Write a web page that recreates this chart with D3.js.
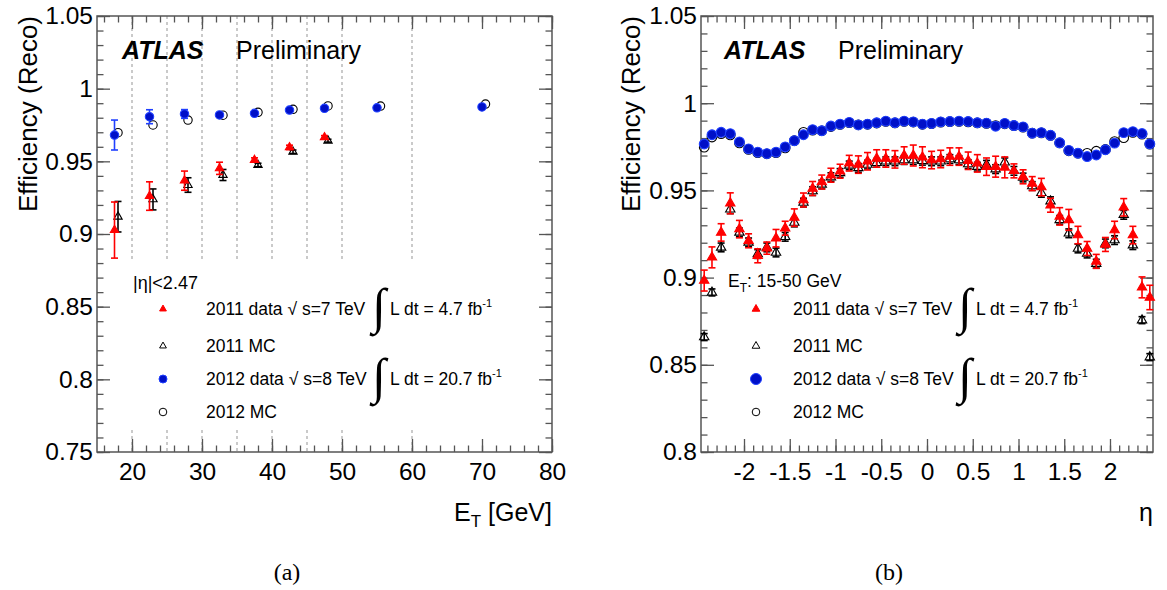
<!DOCTYPE html>
<html>
<head>
<meta charset="utf-8">
<script src="https://cdn.jsdelivr.net/npm/d3@7"></script>
<style>
body { margin: 0; background: #fff; }
svg text { font-family: "Liberation Sans", Arial, sans-serif; fill: #000; }
</style>
</head>
<body>
<script>
// ---- panel (a): efficiency vs E_T ----
let etBinEdges = [20, 25, 30, 35, 40, 45, 50, 60];
let etTicks = [20, 30, 40, 50, 60, 70, 80];
let effTicksA = [0.75, 0.8, 0.85, 0.9, 0.95, 1, 1.05];

let etData2012 = [17.5, 22.5, 27.5, 32.5, 37.5, 42.5, 47.5, 55, 70];
let etMC2012 = [18, 23, 28, 33, 38, 43, 48, 55.5, 70.5];
let effEt2012Data = [0.9681, 0.9807, 0.9826, 0.9819, 0.983, 0.9853, 0.9865, 0.9868, 0.9874];
let errEt2012Data = [0.0103, 0.0048, 0.003, 0.0012, 0.001, 0.001, 0.001, 0.001, 0.001];
let effEt2012MC = [0.9697, 0.975, 0.9784, 0.9817, 0.9837, 0.9858, 0.9881, 0.988, 0.9894];

let etData2011 = [17.5, 22.5, 27.5, 32.5, 37.5, 42.5, 47.5];
let etMC2011 = [18, 23, 28, 33, 38, 43, 48];
let effEt2011Data = [0.9027, 0.9261, 0.9367, 0.9452, 0.9509, 0.9596, 0.9665];
let errEt2011Data = [0.0193, 0.0098, 0.0066, 0.0042, 0.0015, 0.0015, 0.0012];
let effEt2011MC = [0.9119, 0.9238, 0.9337, 0.9406, 0.9475, 0.9566, 0.9642];
let errEt2011MC = [0.0105, 0.0072, 0.005, 0.0038, 0.0012, 0.0012, 0.001];

// ---- panel (b): efficiency vs eta ----
let etaTicks = [-2, -1.5, -1, -0.5, 0, 0.5, 1, 1.5, 2];
let effTicksB = [0.8, 0.85, 0.9, 0.95, 1, 1.05];

let etaCenters = [-2.435, -2.35, -2.25, -2.15, -2.05, -1.95, -1.85, -1.75, -1.65, -1.55,
  -1.45, -1.35, -1.25, -1.15, -1.05, -0.95, -0.85, -0.75, -0.65, -0.55,
  -0.45, -0.35, -0.25, -0.15, -0.05, 0.05, 0.15, 0.25, 0.35, 0.45,
  0.55, 0.65, 0.75, 0.85, 0.95, 1.05, 1.15, 1.25, 1.35, 1.45,
  1.55, 1.65, 1.75, 1.85, 1.95, 2.05, 2.15, 2.25, 2.35, 2.435];

let effEta2012Data = [0.9766, 0.9819, 0.9833, 0.9825, 0.9778, 0.9738, 0.9719, 0.9711, 0.9719, 0.9749,
  0.9785, 0.9819, 0.9848, 0.9842, 0.9869, 0.988, 0.989, 0.9876, 0.988, 0.9888,
  0.9897, 0.9888, 0.9897, 0.9893, 0.988, 0.9884, 0.9893, 0.9895, 0.9897, 0.9895,
  0.9888, 0.9886, 0.9868, 0.9884, 0.9872, 0.9864, 0.9828, 0.9831, 0.9816, 0.9773,
  0.9729, 0.9713, 0.9694, 0.9703, 0.9733, 0.9771, 0.9831, 0.9837, 0.9826, 0.9767];
let effEta2012MC = [0.9748, 0.9806, 0.9825, 0.9818, 0.9772, 0.9735, 0.9716, 0.971, 0.9716, 0.9743,
  0.9785, 0.9833, 0.9845, 0.9842, 0.9866, 0.9878, 0.9888, 0.9876, 0.9879, 0.9886,
  0.9895, 0.9887, 0.9895, 0.9892, 0.9879, 0.9883, 0.9891, 0.9894, 0.9895, 0.9893,
  0.9887, 0.9884, 0.9872, 0.9882, 0.9871, 0.9862, 0.9828, 0.983, 0.9815, 0.9772,
  0.9727, 0.9713, 0.9713, 0.9725, 0.9735, 0.978, 0.9802, 0.9832, 0.9822, 0.9765];

let effEta2011Data = [0.8983, 0.9116, 0.9259, 0.9426, 0.9278, 0.9211, 0.9125, 0.9169, 0.9226, 0.9283,
  0.9344, 0.9445, 0.9511, 0.9548, 0.9587, 0.961, 0.9656, 0.9648, 0.9667, 0.9683,
  0.9683, 0.9678, 0.97, 0.97, 0.969, 0.9674, 0.968, 0.9694, 0.9694, 0.967,
  0.9655, 0.9636, 0.9636, 0.9632, 0.9612, 0.9578, 0.9539, 0.9519, 0.9415, 0.9351,
  0.9331, 0.9244, 0.9167, 0.9093, 0.919, 0.9273, 0.9403, 0.9244, 0.8944, 0.8886];
let errEta2011Data = [0.006, 0.006, 0.005, 0.006, 0.005, 0.004, 0.004, 0.0035, 0.005, 0.004,
  0.005, 0.004, 0.004, 0.004, 0.004, 0.004, 0.0045, 0.005, 0.005, 0.005,
  0.005, 0.005, 0.005, 0.006, 0.006, 0.005, 0.005, 0.005, 0.005, 0.005,
  0.005, 0.005, 0.006, 0.006, 0.004, 0.004, 0.004, 0.005, 0.004, 0.005,
  0.006, 0.005, 0.004, 0.004, 0.004, 0.005, 0.005, 0.005, 0.006, 0.007];
let effEta2011MC = [0.8659, 0.8915, 0.9173, 0.9392, 0.9259, 0.9202, 0.9135, 0.9173, 0.9144, 0.9234,
  0.9316, 0.943, 0.9496, 0.9534, 0.9576, 0.96, 0.9643, 0.9629, 0.9648, 0.9658,
  0.9667, 0.9667, 0.9674, 0.9674, 0.967, 0.9667, 0.9667, 0.968, 0.9674, 0.9651,
  0.9636, 0.9647, 0.9622, 0.9661, 0.9612, 0.9574, 0.9525, 0.9486, 0.9438, 0.9331,
  0.9254, 0.9167, 0.9138, 0.908, 0.9196, 0.9215, 0.936, 0.9186, 0.8756, 0.8544];
let errEta2011MC = [0.002, 0.002, 0.0025, 0.0025, 0.0025, 0.0025, 0.0025, 0.0025, 0.0025, 0.0025,
  0.0025, 0.0025, 0.0025, 0.0025, 0.0025, 0.0025, 0.0025, 0.0025, 0.0025, 0.0025,
  0.0025, 0.0025, 0.0025, 0.0025, 0.0025, 0.0025, 0.0025, 0.0025, 0.0025, 0.0025,
  0.0025, 0.0025, 0.0025, 0.0025, 0.0025, 0.0025, 0.0025, 0.0025, 0.0025, 0.0025,
  0.0025, 0.0025, 0.0025, 0.0025, 0.0025, 0.0025, 0.0025, 0.0025, 0.002, 0.002];


let svg = d3.select('body').append('svg')
    .attr('width', 1167).attr('height', 590);
svg.append('rect').attr('width', 1167).attr('height', 590).attr('fill', 'white');

let RED = '#ff0000', BLUE = '#0010c8', BLUE_EDGE = '#2040ff', FRAME = '#555';
let fmt = d => String(+d.toFixed(2));

// frame + inward ROOT-style ticks on all four sides
let drawFrame = function (g, x, y, xMajor, xMinor, yMajor, yMinor) {
    let [x0, x1] = x.range(), [y1, y0] = y.range();
    let sides = [
        [d3.axisBottom(x), `translate(0,${y1})`, xMajor, xMinor, true, 11],
        [d3.axisTop(x), `translate(0,${y0})`, xMajor, xMinor, false, 0],
        [d3.axisLeft(y), `translate(${x0},0)`, yMajor, yMinor, true, 4],
        [d3.axisRight(y), `translate(${x1},0)`, yMajor, yMinor, false, 0]
    ];
    sides.forEach(([axis, tr, major, minor, labels, pad]) => {
        g.append('g').attr('transform', tr)
            .call(axis.tickValues(minor).tickSize(-6.5).tickFormat(''));
        g.append('g').attr('transform', tr)
            .call(axis.tickValues(major).tickSize(-13).tickPadding(pad)
                .tickFormat(labels ? fmt : ''));
    });
    g.selectAll('.domain').remove();
    g.selectAll('.tick line').attr('stroke', FRAME).attr('stroke-width', 1.3);
    g.selectAll('.tick text').style('font-size', '24.5px').attr('fill', '#000')
        .style('font-family', '"Liberation Sans", Arial, sans-serif');
    g.append('rect').attr('x', x0).attr('y', y0)
        .attr('width', x1 - x0).attr('height', y1 - y0)
        .attr('fill', 'none').attr('stroke', FRAME).attr('stroke-width', 1.5);
};

let drawErrors = function (g, xs, ys, es, x, y, color, cap) {
    let pts = xs.map((v, i) => ({x: v, y: ys[i], e: es[i]}));
    let eg = g.append('g').attr('stroke', color).attr('stroke-width', 1.6);
    eg.selectAll('.v').data(pts).enter().append('line')
        .attr('x1', d => x(d.x)).attr('x2', d => x(d.x))
        .attr('y1', d => y(d.y - d.e)).attr('y2', d => y(d.y + d.e));
    [-1, 1].forEach(s => {
        eg.selectAll(null).data(pts).enter().append('line')
            .attr('x1', d => x(d.x) - cap).attr('x2', d => x(d.x) + cap)
            .attr('y1', d => y(d.y + s * d.e)).attr('y2', d => y(d.y + s * d.e));
    });
};

let triangle = size => d3.symbol().type(d3.symbolTriangle).size(size)();

let drawTriangles = function (g, xs, ys, x, y, size, filled) {
    g.selectAll(null).data(xs.map((v, i) => [v, ys[i]])).enter().append('path')
        .attr('d', triangle(size))
        .attr('transform', d => `translate(${x(d[0])},${y(d[1])})`)
        .attr('fill', filled ? RED : 'none')
        .attr('stroke', filled ? RED : '#000').attr('stroke-width', 1.1);
};

let drawCircles = function (g, xs, ys, x, y, r, filled) {
    g.selectAll(null).data(xs.map((v, i) => [v, ys[i]])).enter().append('circle')
        .attr('cx', d => x(d[0])).attr('cy', d => y(d[1])).attr('r', r)
        .attr('fill', filled ? BLUE : 'none')
        .attr('stroke', filled ? BLUE_EDGE : '#000').attr('stroke-width', 1.1);
};

let addText = function (g, x, y, str, size, extra) {
    let t = g.append('text').attr('x', x).attr('y', y).style('font-size', size + 'px').text(str);
    if (extra) extra(t);
    return t;
};

// legend rows: marker, label, optional luminosity
let drawLegend = function (g, lx, tx, ix, rows, big) {
    rows.forEach((r, i) => {
        let cy = r.y;
        if (r.kind === 'tri') {
            g.append('path').attr('d', triangle(big ? 26 : 20))
                .attr('transform', `translate(${lx},${cy})`)
                .attr('fill', r.filled ? RED : 'none')
                .attr('stroke', r.filled ? RED : '#000').attr('stroke-width', 1);
        } else {
            g.append('circle').attr('cx', lx).attr('cy', cy)
                .attr('r', r.filled ? (big ? 5.5 : 4) : 3.8)
                .attr('fill', r.filled ? BLUE : 'none')
                .attr('stroke', r.filled ? BLUE_EDGE : '#000').attr('stroke-width', 1);
        }
        addText(g, tx, cy + 6, r.label, 17.5);
        if (r.lumi) {
            addText(g, ix, cy + 14, '\u222B', 50, t => t.style('font-family', '"Liberation Serif", serif'));
            let t = addText(g, ix + 18, cy + 6, 'L dt = ' + r.lumi + ' fb', 17.5);
            t.append('tspan').attr('dy', -8).style('font-size', '11px').text('-1');
        }
    });
};

let legendRows = [
    {kind: 'tri', filled: true, label: '2011 data \u221A s=7 TeV', lumi: '4.7'},
    {kind: 'tri', filled: false, label: '2011 MC'},
    {kind: 'circ', filled: true, label: '2012 data \u221A s=8 TeV', lumi: '20.7'},
    {kind: 'circ', filled: false, label: '2012 MC'}
];
let rowY = [309, 346, 379, 412];
legendRows.forEach((r, i) => r.y = rowY[i]);

let atlasLabel = function (g, x) {
    addText(g, x, 59, 'ATLAS', 25, t => t.style('font-weight', 'bold').style('font-style', 'italic'));
    addText(g, x + 114, 59, 'Preliminary', 25);
};

let yTitle = function (g, x) {
    g.append('text').attr('transform', `translate(${x},16) rotate(-90)`)
        .attr('text-anchor', 'end').style('font-size', '26px').text('Efficiency (Reco)');
};

// ================= panel (a) =================
{
    let x = d3.scaleLinear().domain([15, 80]).range([97, 552]);
    let y = d3.scaleLinear().domain([0.75, 1.05]).range([452, 16]);
    let g = svg.append('g');

    g.selectAll('.edge').data(etBinEdges).enter().append('line')
        .attr('x1', d => x(d)).attr('x2', d => x(d))
        .attr('y1', y(1.05)).attr('y2', y(0.75))
        .attr('stroke', '#b4b4b4').attr('stroke-width', 1.4).attr('stroke-dasharray', '3,3');
    // legend box hides the bin edges behind the legend
    g.append('rect').attr('x', 112).attr('y', 262).attr('width', 395).attr('height', 168)
        .attr('fill', 'white');

    drawFrame(g, x, y, etTicks, d3.range(16, 81, 2), effTicksA, d3.range(75, 106).map(d => d / 100));

    drawErrors(g, etMC2011, effEt2011MC, errEt2011MC, x, y, '#000', 3.5);
    drawTriangles(g, etMC2011, effEt2011MC, x, y, 30, false);
    drawErrors(g, etData2011, effEt2011Data, errEt2011Data, x, y, RED, 3.5);
    drawTriangles(g, etData2011, effEt2011Data, x, y, 30, true);
    drawCircles(g, etMC2012, effEt2012MC, x, y, 4.2, false);
    drawErrors(g, etData2012, effEt2012Data, errEt2012Data, x, y, BLUE_EDGE, 3.5);
    drawCircles(g, etData2012, effEt2012Data, x, y, 4.2, true);

    atlasLabel(g, 122);
    yTitle(g, 37);
    let xt = addText(g, 552, 521, 'E', 25, t => t.attr('text-anchor', 'end'));
    xt.append('tspan').attr('dy', 6).style('font-size', '17px').text('T');
    xt.append('tspan').attr('dy', -6).text(' [GeV]');

    addText(g, 133, 289, '|\u03B7|<2.47', 18);
    drawLegend(g, 163, 206, 372, legendRows, false);
    addText(g, 287, 580, '(a)', 24, t => t.attr('text-anchor', 'middle')
        .style('font-family', '"Liberation Serif", serif'));
}

// ================= panel (b) =================
{
    let x = d3.scaleLinear().domain([-2.47, 2.47]).range([701, 1153]);
    let y = d3.scaleLinear().domain([0.8, 1.05]).range([452, 16]);
    let g = svg.append('g');

    drawFrame(g, x, y, etaTicks, d3.range(-24, 25).map(d => d / 10), effTicksB, d3.range(80, 106).map(d => d / 100));

    drawErrors(g, etaCenters, effEta2011MC, errEta2011MC, x, y, '#000', 3.5);
    drawTriangles(g, etaCenters, effEta2011MC, x, y, 38, false);
    drawErrors(g, etaCenters, effEta2011Data, errEta2011Data, x, y, RED, 3.5);
    drawTriangles(g, etaCenters, effEta2011Data, x, y, 38, true);
    drawCircles(g, etaCenters, effEta2012MC, x, y, 4.8, false);
    drawCircles(g, etaCenters, effEta2012Data, x, y, 4.9, true);

    atlasLabel(g, 724);
    yTitle(g, 640);
    addText(g, 1153, 521, '\u03B7', 25, t => t.attr('text-anchor', 'end'));

    let et = addText(g, 728, 287, 'E', 17.5);
    et.append('tspan').attr('dy', 5).style('font-size', '12px').text('T');
    et.append('tspan').attr('dy', -5).text(': 15-50 GeV');
    drawLegend(g, 756, 793, 958, legendRows, true);
    addText(g, 889, 580, '(b)', 24, t => t.attr('text-anchor', 'middle')
        .style('font-family', '"Liberation Serif", serif'));
}
</script>
</body>
</html>
